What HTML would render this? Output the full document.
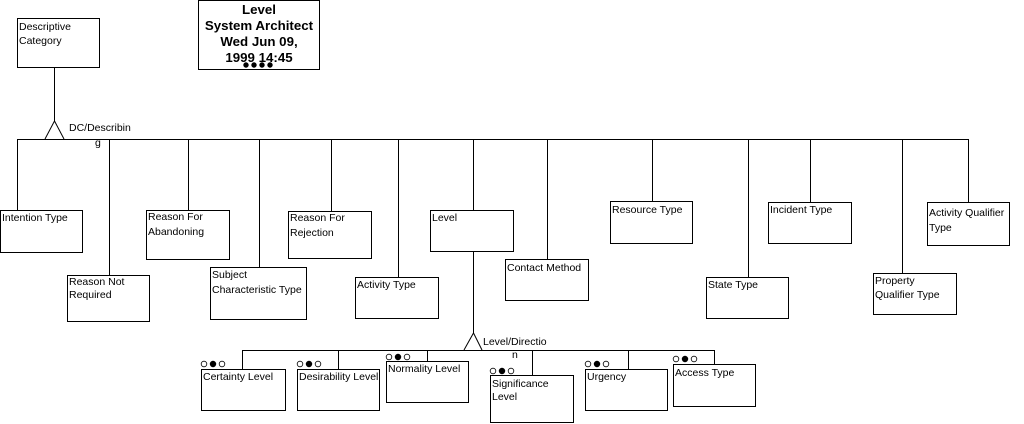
<!DOCTYPE html>
<html><head><style>
html,body{margin:0;padding:0;background:#fff}
svg{display:block}
text{font-family:"Liberation Sans",sans-serif;font-size:10.5px;fill:#000}
.t{font-size:13.3px;font-weight:bold}
</style></head><body>
<svg width="1024" height="424" viewBox="0 0 1024 424" shape-rendering="crispEdges">
<rect width="1024" height="424" fill="#fff"/>
<g stroke="#000" stroke-width="1" fill="none">
<rect x="17.5" y="18.5" width="82" height="49"/>
<rect x="198.5" y="0.5" width="121" height="69"/>
<line x1="54.5" y1="67" x2="54.5" y2="122"/>
<polyline points="45,139 54.5,121 64,139" shape-rendering="auto"/>
<line x1="17" y1="139.5" x2="969" y2="139.5"/>
<line x1="17.5" y1="139" x2="17.5" y2="210"/>
<line x1="109.5" y1="139" x2="109.5" y2="275"/>
<line x1="188.5" y1="139" x2="188.5" y2="210"/>
<line x1="259.5" y1="139" x2="259.5" y2="267"/>
<line x1="331.5" y1="139" x2="331.5" y2="211"/>
<line x1="398.5" y1="139" x2="398.5" y2="277"/>
<line x1="473.5" y1="139" x2="473.5" y2="210"/>
<line x1="547.5" y1="139" x2="547.5" y2="259"/>
<line x1="652.5" y1="139" x2="652.5" y2="201"/>
<line x1="748.5" y1="139" x2="748.5" y2="277"/>
<line x1="810.5" y1="139" x2="810.5" y2="202"/>
<line x1="902.5" y1="139" x2="902.5" y2="273"/>
<line x1="968.5" y1="139" x2="968.5" y2="202"/>
<rect x="0.5" y="210.5" width="82" height="42"/>
<rect x="67.5" y="275.5" width="82" height="46"/>
<rect x="146.5" y="210.5" width="83" height="49"/>
<rect x="210.5" y="267.5" width="96" height="52"/>
<rect x="288.5" y="211.5" width="83" height="47"/>
<rect x="355.5" y="277.5" width="83" height="41"/>
<rect x="430.5" y="210.5" width="83" height="41"/>
<rect x="505.5" y="259.5" width="83" height="41"/>
<rect x="610.5" y="201.5" width="82" height="42"/>
<rect x="706.5" y="277.5" width="82" height="41"/>
<rect x="768.5" y="202.5" width="83" height="41"/>
<rect x="873.5" y="273.5" width="83" height="41"/>
<rect x="927.5" y="202.5" width="82" height="43"/>
<line x1="473.5" y1="251" x2="473.5" y2="334"/>
<polyline points="464,350 473.5,333 482,350" shape-rendering="auto"/>
<line x1="242" y1="350.5" x2="715" y2="350.5"/>
<line x1="242.5" y1="350" x2="242.5" y2="369"/>
<line x1="338.5" y1="350" x2="338.5" y2="369"/>
<line x1="427.5" y1="350" x2="427.5" y2="361"/>
<line x1="532.5" y1="350" x2="532.5" y2="375"/>
<line x1="628.5" y1="350" x2="628.5" y2="369"/>
<line x1="714.5" y1="350" x2="714.5" y2="364"/>
<rect x="201.5" y="369.5" width="84" height="41"/>
<rect x="297.5" y="369.5" width="82" height="41"/>
<rect x="386.5" y="361.5" width="82" height="41"/>
<rect x="490.5" y="375.5" width="83" height="47"/>
<rect x="585.5" y="369.5" width="82" height="41"/>
<rect x="673.5" y="364.5" width="82" height="42"/>
</g>
<g shape-rendering="auto" stroke="#000" stroke-width="0.8">
<g transform="translate(204,364)"><circle cx="0" cy="0" r="2.8" fill="#fff"/><circle cx="9" cy="0" r="2.8" fill="#000"/><circle cx="18" cy="0" r="2.8" fill="#fff"/></g>
<g transform="translate(300,364)"><circle cx="0" cy="0" r="2.8" fill="#fff"/><circle cx="9" cy="0" r="2.8" fill="#000"/><circle cx="18" cy="0" r="2.8" fill="#fff"/></g>
<g transform="translate(389,357)"><circle cx="0" cy="0" r="2.8" fill="#fff"/><circle cx="9" cy="0" r="2.8" fill="#000"/><circle cx="18" cy="0" r="2.8" fill="#fff"/></g>
<g transform="translate(493,371)"><circle cx="0" cy="0" r="2.8" fill="#fff"/><circle cx="9" cy="0" r="2.8" fill="#000"/><circle cx="18" cy="0" r="2.8" fill="#fff"/></g>
<g transform="translate(588,364)"><circle cx="0" cy="0" r="2.8" fill="#fff"/><circle cx="9" cy="0" r="2.8" fill="#000"/><circle cx="18" cy="0" r="2.8" fill="#fff"/></g>
<g transform="translate(676,359)"><circle cx="0" cy="0" r="2.8" fill="#fff"/><circle cx="9" cy="0" r="2.8" fill="#000"/><circle cx="18" cy="0" r="2.8" fill="#fff"/></g>
<g fill="#000"><circle cx="246" cy="65" r="2.3"/><circle cx="254" cy="65" r="2.3"/><circle cx="262" cy="65" r="2.3"/><circle cx="270" cy="65" r="2.3"/></g>
</g>
<text class="t" x="259" y="14" text-anchor="middle">Level</text>
<text class="t" x="259" y="30" text-anchor="middle">System Architect</text>
<text class="t" x="259" y="46" text-anchor="middle">Wed Jun 09,</text>
<text class="t" x="259" y="62" text-anchor="middle">1999  14:45</text>
<text x="19" y="30">Descriptive</text><text x="19" y="44">Category</text>
<text x="69" y="131">DC/Describin</text><text x="95" y="146">g</text>
<text x="2" y="221">Intention Type</text>
<text x="69" y="285">Reason Not</text><text x="69" y="298">Required</text>
<text x="148" y="220">Reason For</text><text x="148" y="235">Abandoning</text>
<text x="212" y="278">Subject</text><text x="212" y="293">Characteristic Type</text>
<text x="290" y="221">Reason For</text><text x="290" y="236">Rejection</text>
<text x="357" y="288">Activity Type</text>
<text x="432" y="221">Level</text>
<text x="507" y="271">Contact Method</text>
<text x="612" y="213">Resource Type</text>
<text x="708" y="288">State Type</text>
<text x="770" y="213">Incident Type</text>
<text x="875" y="284">Property</text><text x="875" y="298">Qualifier Type</text>
<text x="929" y="216">Activity Qualifier</text><text x="929" y="231">Type</text>
<text x="483" y="345">Level/Directio</text><text x="512" y="358">n</text>
<text x="203" y="380">Certainty Level</text>
<text x="299" y="380">Desirability Level</text>
<text x="388" y="372">Normality Level</text>
<text x="492" y="387">Significance</text><text x="492" y="400">Level</text>
<text x="587" y="380">Urgency</text>
<text x="675" y="376">Access Type</text>
</svg>
</body></html>
